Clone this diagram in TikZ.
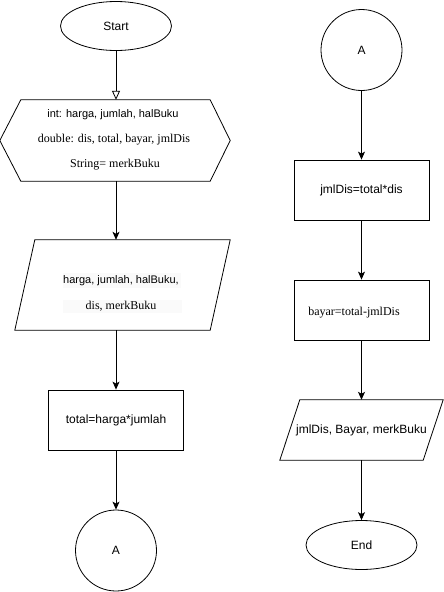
\documentclass[tikz,border=0pt]{standalone}
\usepackage{fontspec}
\setmainfont{Liberation Serif}
\setsansfont{Liberation Sans}
\usetikzlibrary{arrows.meta,shapes.geometric}
\tikzset{
  every node/.style={font=\sffamily\fontsize{12}{14}\selectfont},
  ln/.style={line width=0.8pt},
  box/.style={draw,ln,rectangle,minimum width=135pt,minimum height=60pt,inner sep=0pt},
  term/.style={draw,ln,ellipse,minimum width=111pt,minimum height=49pt,inner sep=0pt},
  conn/.style={draw,ln,circle,minimum size=81pt,inner sep=0pt},
  ghost/.style={rectangle,inner sep=0pt},
  serif/.style={font=\rmfamily\fontsize{12}{14}\selectfont},
  small/.style={font=\sffamily\fontsize{11}{13}\selectfont},
  flow/.style={ln,-{Stealth[length=8pt,width=7pt,inset=2pt]}},
  openflow/.style={ln,-{Triangle[open,length=9pt,width=8pt]}}
}
\begin{document}
\begin{tikzpicture}[x=1pt,y=-1pt]
\useasboundingbox (0,0) rectangle (444,592);
% left column
\node[term] (start) at (116,26) {Start};
\node[ghost,minimum width=230pt,minimum height=81pt] (decl) at (115,140.5) {};
\draw[ln] (decl.west) -- ([xshift=21pt]decl.north west) -- ([xshift=-20pt]decl.north east) -- (decl.east) -- ([xshift=-20pt]decl.south east) -- ([xshift=21pt]decl.south west) -- cycle;
\node[small] (d1) at (113,115) {int: harga, jumlah, halBuku};
\node[serif] (d2) at (114,140) {double: dis, total, bayar, jmlDis};
\node[serif] (d3) at (115,165) {String= merkBuku};
\node[ghost,minimum width=215pt,minimum height=90pt] (inp) at (122.5,285) {};
\draw[ln] ([xshift=20pt]inp.north west) -- (inp.north east) -- ([xshift=-20pt]inp.south east) -- (inp.south west) -- cycle;
\fill[black!2] (63,273) rectangle (181,288);
\fill[black!2] (63,300) rectangle (182,313);
\node[small] (i1) at (121,280.5) {harga, jumlah, halBuku,};
\node[serif] (i2) at (121,306.5) {dis, merkBuku};
\node[box] (tot) at (116,420) {total=harga*jumlah};
\node[conn] (a1) at (116,550.5) {A};
% right column
\node[conn] (a2) at (361.5,50) {A};
\node[box] (jml) at (361.5,190) {jmlDis=total*dis};
\node[box] (bay) at (361.5,310) {};
\node[serif] (bayt) at (354,313) {bayar=total-jmlDis};
\node[ghost,minimum width=163pt,minimum height=60pt] (out) at (361.5,430) {};
\draw[ln] ([xshift=20pt]out.north west) -- (out.north east) -- ([xshift=-20pt]out.south east) -- (out.south west) -- cycle;
\node (o1) at (361.5,430) {jmlDis, Bayar, merkBuku};
\node[term] (end) at (361.5,545) {End};
% connectors
\draw[openflow] (start.south) -- (start.south |- decl.north);
\draw[flow] (start.south |- decl.south) -- (start.south |- inp.north);
\draw[flow] (tot.north |- inp.south) -- (tot.north);
\draw[flow] (tot.south) -- (a1.north);
\draw[flow] (a2.south) -- (jml.north);
\draw[flow] (jml.south) -- (bay.north);
\draw[flow] (bay.south) -- (out.north);
\draw[flow] (out.south) -- (end.north);
\end{tikzpicture}
\end{document}
